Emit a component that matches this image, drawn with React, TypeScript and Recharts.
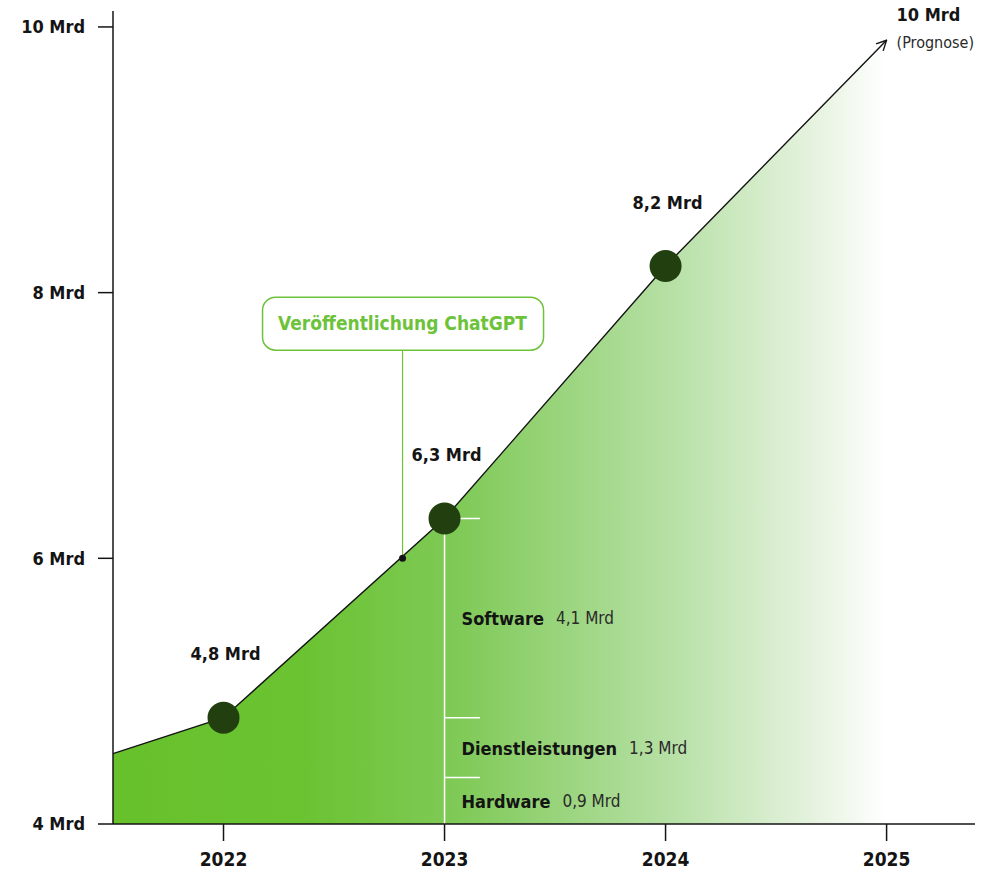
import { ComposedChart, Area, Line, XAxis, YAxis, ReferenceLine, ReferenceDot, LabelList } from 'recharts'

// ── Data ──────────────────────────────────────────────────────────────────────

const years = [2021.5, 2022, 2023, 2024, 2025]
const volume = [4.53, 4.8, 6.3, 8.2, 9.9]
const pointLabels = ['', '4,8 Mrd', '6,3 Mrd', '8,2 Mrd', '']

const xTicks = [2022, 2023, 2024, 2025]
const yTicks = [4, 6, 8, 10]
const yTickLabels = ['4 Mrd', '6 Mrd', '8 Mrd', '10 Mrd']

// Aufschlüsselung 2023
const segmentNames = ['Software', 'Dienstleistungen', 'Hardware']
const segmentValues = ['4,1 Mrd', '1,3 Mrd', '0,9 Mrd']
const segmentTops = [6.3, 4.8, 4.35]
const segmentLabelAt = [5.55, 4.57, 4.17]
const bracketEnd = 2023.16

const chatgptYear = 2022.81
const chatgptValue = 6.0
const chatgptLineTop = 7.58
const chatgptBoxAt = 7.77

const data = years.map((year, i) => ({ year, value: volume[i], label: pointLabels[i] }))

// ── Styles ────────────────────────────────────────────────────────────────────

const FONT = "'DejaVu Sans Condensed', 'Liberation Sans Narrow', sans-serif"
const INK = '#141414'
const GREEN = '#6cc33a'
const DOT = '#22400f'

export default function App() {
  return (
    <div style={{ position: 'absolute', left: 0, top: 0, width: 1002, height: 873, background: '#fff' }}>
      <ComposedChart
        width={1002}
        height={873}
        data={data}
        margin={{ top: 11, right: 27, bottom: 9, left: 53 }}
        style={{ fontFamily: FONT }}
      >
        <defs>
          <linearGradient id="areaFill" x1="0" y1="0" x2="1" y2="0">
            <stop offset="0%" stopColor="#67c12b" />
            <stop offset="25%" stopColor="#6bc332" />
            <stop offset="45%" stopColor="#80ca58" />
            <stop offset="72%" stopColor="#b6e0a5" />
            <stop offset="90%" stopColor="#e4f2dd" />
            <stop offset="100%" stopColor="#ffffff" />
          </linearGradient>
          <marker id="arrow" viewBox="0 0 12 12" refX="11" refY="6" markerWidth="12" markerHeight="12" markerUnits="userSpaceOnUse" orient="auto">
            <path d="M1,1 L11,6 L1,11" fill="none" stroke={INK} strokeWidth={1.4} />
          </marker>
        </defs>

        <XAxis
          type="number"
          dataKey="year"
          domain={[2021.5, 2025.4]}
          ticks={xTicks}
          height={40}
          tickSize={17}
          tickMargin={12}
          axisLine={{ stroke: INK, strokeWidth: 1.5 }}
          tickLine={{ stroke: INK, strokeWidth: 1.5 }}
          tick={{ fill: INK, fontSize: 19, fontWeight: 700, fontFamily: FONT }}
        />
        <YAxis
          type="number"
          domain={[4, 10.12]}
          ticks={yTicks}
          width={60}
          tickSize={15}
          tickMargin={13}
          tickFormatter={(v: number) => yTickLabels[yTicks.indexOf(v)]}
          axisLine={{ stroke: INK, strokeWidth: 1.5 }}
          tickLine={{ stroke: INK, strokeWidth: 1.5 }}
          tick={{ fill: INK, fontSize: 18, fontWeight: 700, fontFamily: FONT }}
        />

        <Area dataKey="value" type="linear" stroke="none" fill="url(#areaFill)" fillOpacity={1} isAnimationActive={false} />
        <Line
          dataKey="value"
          type="linear"
          stroke={INK}
          strokeWidth={1.4}
          markerEnd="url(#arrow)"
          isAnimationActive={false}
          dot={(p: any) =>
            p.payload.label ? (
              <circle key={p.index} cx={p.cx} cy={p.cy} r={16} fill={DOT} />
            ) : (
              <g key={p.index} />
            )
          }
          activeDot={false}
        >
          <LabelList
            dataKey="label"
            content={(p: any) =>
              p.value ? (
                <text x={p.x + 2} y={p.y - 64} textAnchor="middle" dominantBaseline="central" fill={INK} fontSize={18} fontWeight={700} fontFamily={FONT}>
                  {p.value}
                </text>
              ) : null
            }
          />
        </Line>

        {/* Klammer für die Aufschlüsselung 2023 */}
        <ReferenceLine segment={[{ x: 2023, y: segmentTops[0] }, { x: 2023, y: 4 }]} stroke="#fff" strokeWidth={1.5} />
        {segmentTops.map((top) => (
          <ReferenceLine key={top} segment={[{ x: 2023, y: top }, { x: bracketEnd, y: top }]} stroke="#fff" strokeWidth={1.5} />
        ))}
        {segmentNames.map((name, i) => (
          <ReferenceDot
            key={name}
            x={2023}
            y={segmentLabelAt[i]}
            r={0}
            shape={(p: any) => (
              <text x={p.cx + 17} y={p.cy} dominantBaseline="central" fill={INK} fontFamily={FONT}>
                <tspan fontSize={18} fontWeight={700}>{name}</tspan>
                <tspan dx={12} fontSize={17} fontWeight={400} fill="#2a2a2a">{segmentValues[i]}</tspan>
              </text>
            )}
          />
        ))}

        {/* ChatGPT-Markierung */}
        <ReferenceLine segment={[{ x: chatgptYear, y: chatgptValue }, { x: chatgptYear, y: chatgptLineTop }]} stroke={GREEN} strokeWidth={1.2} />
        <ReferenceDot x={chatgptYear} y={chatgptValue} r={3.5} fill={INK} stroke="none" />
        <ReferenceDot
          x={chatgptYear}
          y={chatgptBoxAt}
          r={0}
          shape={(p: any) => (
            <g>
              <rect x={p.cx - 140} y={p.cy - 26} width={281} height={53} rx={13} fill="#fff" stroke={GREEN} strokeWidth={1.5} />
              <text x={p.cx} y={p.cy} textAnchor="middle" dominantBaseline="central" fill={GREEN} fontSize={19} fontWeight={700} fontFamily={FONT}>
                Veröffentlichung ChatGPT
              </text>
            </g>
          )}
        />

        {/* Prognose */}
        <ReferenceDot
          x={2025}
          y={volume[4]}
          r={0}
          shape={(p: any) => (
            <g fontFamily={FONT}>
              <text x={p.cx + 10} y={p.cy - 26} dominantBaseline="central" fill={INK} fontSize={18} fontWeight={700}>10 Mrd</text>
              <text x={p.cx + 10} y={p.cy + 2} dominantBaseline="central" fill="#2a2a2a" fontSize={16}>(Prognose)</text>
            </g>
          )}
        />
      </ComposedChart>
    </div>
  )
}
